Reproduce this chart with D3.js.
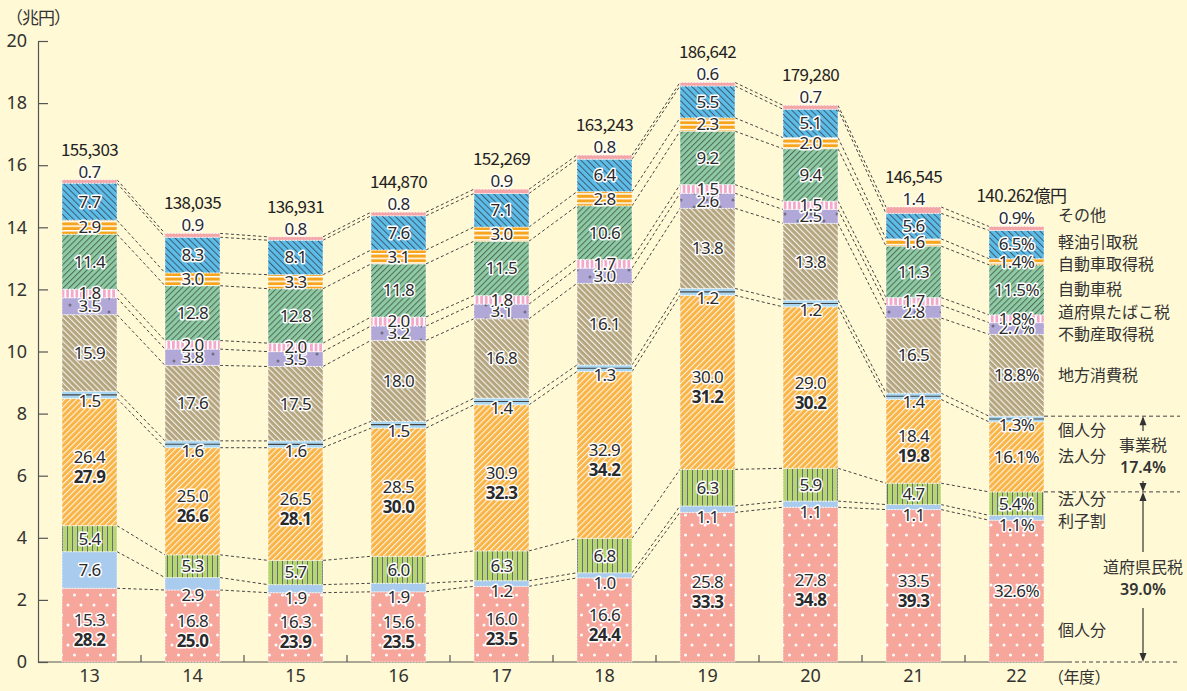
<!DOCTYPE html>
<html><head><meta charset="utf-8">
<script src="https://cdn.jsdelivr.net/npm/d3@7"></script>
<style>
body{margin:0;background:#fff9d5;}
svg{display:block;}
</style></head><body>
<svg id="chart" width="1187" height="691"></svg>
<script>
// ---------------- DATA ----------------
const years = ["13","14","15","16","17","18","19","20","21","22"];
const totals = [155303,138035,136931,144870,152269,163243,186642,179280,146545,140262]; // 億円
const totalLabels = ["155,303","138,035","136,931","144,870","152,269","163,243","186,642","179,280","146,545","140.262億円"];
const seriesNames = ["個人分","利子割","法人分","法人分","個人分","地方消費税","不動産取得税","道府県たばこ税","自動車税","自動車取得税","軽油引取税","その他"];
// shares (%) bottom to top
const prefIndividual   = [15.3,16.8,16.3,15.6,16.0,16.6,25.8,27.8,33.5,32.6];
const prefInterest     = [7.6,2.9,1.9,1.9,1.2,1.0,1.1,1.1,1.1,1.1];
const prefCorporate    = [5.4,5.3,5.7,6.0,6.3,6.8,6.3,5.9,4.7,5.4];
const bizCorporate     = [26.4,25.0,26.5,28.5,30.9,32.9,30.0,29.0,18.4,16.1];
const bizIndividual    = [1.5,1.6,1.6,1.5,1.4,1.3,1.2,1.2,1.4,1.3];
const localConsumption = [15.9,17.6,17.5,18.0,16.8,16.1,13.8,13.8,16.5,18.8];
const realEstate       = [3.5,3.8,3.5,3.2,3.1,3.0,2.6,2.5,2.8,2.7];
const tobacco          = [1.8,2.0,2.0,2.0,1.8,1.7,1.5,1.5,1.7,1.8];
const autoTax          = [11.4,12.8,12.8,11.8,11.5,10.6,9.2,9.4,11.3,11.5];
const autoAcquisition  = [2.9,3.0,3.3,3.1,3.0,2.8,2.3,2.0,1.6,1.4];
const lightOil         = [7.7,8.3,8.1,7.6,7.1,6.4,5.5,5.1,5.6,6.5];
const others           = [0.7,0.9,0.8,0.8,0.9,0.8,0.6,0.7,1.4,0.9];
// bold totals: 道府県民税 and 事業税
const prefTaxTotal = [28.2,25.0,23.9,23.5,23.5,24.4,33.3,34.8,39.3,null];
const bizTaxTotal  = [27.9,26.6,28.1,30.0,32.3,34.2,31.2,30.2,19.8,null];
const yTicks = [0,2,4,6,8,10,12,14,16,18,20];
const bracketNames = ["事業税","道府県民税"];
const bracketLabels = ["17.4%","39.0%"];

const series = [prefIndividual,prefInterest,prefCorporate,bizCorporate,bizIndividual,
  localConsumption,realEstate,tobacco,autoTax,autoAcquisition,lightOil,others];

// ---------------- SETUP ----------------
const W = 1187, H = 691;
const svg = d3.select("#chart");
svg.append("rect").attr("width",W).attr("height",H).attr("fill","#fff9d5");
const NUM = "'Noto Sans', 'DejaVu Sans', sans-serif";
const JP = "'Noto Sans CJK JP', 'Noto Sans', sans-serif";

const x = d3.scaleBand().domain(years).range([38,1068]).paddingInner(48/103).paddingOuter(24/103);
const y = d3.scaleLinear().domain([0,20]).range([662,41]);
const bw = x.bandwidth();

// ---------------- PATTERNS ----------------
const defs = svg.append("defs");
function pat(id,w,h,bg,draw,transform){
  const p = defs.append("pattern").attr("id",id).attr("patternUnits","userSpaceOnUse")
    .attr("width",w).attr("height",h);
  if(transform) p.attr("patternTransform",transform);
  p.append("rect").attr("width",w).attr("height",h).attr("fill",bg);
  if(draw) draw(p);
}
pat("p0",13,20,"#f6a69b",p=>{
  p.append("circle").attr("cx",3).attr("cy",5).attr("r",1.5).attr("fill","#fff");
  p.append("circle").attr("cx",9.5).attr("cy",15).attr("r",1.5).attr("fill","#fff");
});
pat("p1",10,10,"#a9cbee");
pat("p2",5,5,"#b6d66e",p=>{
  p.append("rect").attr("x",2).attr("y",0).attr("width",1).attr("height",5).attr("fill","#6c6a82");
});
pat("p3",4.2,4.2,"#f9b445",p=>{
  p.append("rect").attr("x",0).attr("y",0).attr("width",1.1).attr("height",4.2).attr("fill","#fff").attr("opacity",0.85);
},"rotate(45)");
pat("p4",10,10,"#a9d6f1");
pat("p5",4.2,4.2,"#b5a57e",p=>{
  p.append("rect").attr("x",0).attr("y",0).attr("width",1.1).attr("height",4.2).attr("fill","#fff").attr("opacity",0.85);
},"rotate(-45)");
pat("p6",26,14,"#b1a8d8",p=>{
  p.append("circle").attr("cx",5).attr("cy",4).attr("r",1.5).attr("fill","#6f6f82");
  p.append("circle").attr("cx",18).attr("cy",11).attr("r",1.5).attr("fill","#6f6f82");
});
pat("p7",4.6,5,"#f3a9c9",p=>{
  p.append("rect").attr("x",0).attr("y",0).attr("width",1.8).attr("height",5).attr("fill","#fff");
});
pat("p8",4.2,4.2,"#8ecba3",p=>{
  p.append("rect").attr("x",0).attr("y",0).attr("width",1).attr("height",4.2).attr("fill","#4f6a5c");
},"rotate(45)");
pat("p9",5,4.6,"#f7a51d",p=>{
  p.append("rect").attr("x",0).attr("y",0).attr("width",5).attr("height",1.5).attr("fill","#fff");
});
pat("p10",4.5,4.5,"#5dbde9",p=>{
  p.append("rect").attr("x",0).attr("y",0).attr("width",1).attr("height",4.5).attr("fill","#3d5a6e");
},"rotate(-45)");
pat("p11",10,10,"#f4a5a8");

// ---------------- STACK ----------------
const bars = years.map((yr,i)=>{
  const sum = d3.sum(series,s=>s[i]);
  const k = totals[i]/10000/sum;
  let c = 0;
  const segs = series.map((s,j)=>{
    const y0 = c; c += s[i]*k;
    return {j, v:s[i], y0, y1:c, i};
  });
  return {yr, i, segs, top:c};
});

// ---------------- AXES ----------------
const gy = svg.append("g").attr("transform","translate(38,0)")
  .call(d3.axisLeft(y).tickValues(yTicks).tickSize(-10).tickSizeOuter(0).tickPadding(11).tickFormat(d3.format("d")));
gy.select(".domain").attr("stroke","#555").attr("stroke-width",1.2);
gy.selectAll(".tick line").attr("stroke","#555").attr("stroke-width",1.2);
gy.selectAll(".tick text").attr("font-family",NUM).attr("font-size",18).attr("fill","#333");
svg.append("text").attr("x",6).attr("y",18).attr("dy","0.35em").attr("font-family",JP)
  .attr("font-size",17).attr("fill","#333").attr("letter-spacing","-1").text("（兆円）");

// x axis baseline + boundary ticks
svg.append("line").attr("x1",38).attr("x2",1068).attr("y1",y(0)).attr("y2",y(0)).attr("stroke","#555").attr("stroke-width",1.2);
years.forEach((yr,i)=>{
  const bx = x(yr)+bw+(x.step()-bw)/2;
  if(i<years.length-1)
    svg.append("line").attr("x1",bx).attr("x2",bx).attr("y1",y(0)).attr("y2",y(0)-7).attr("stroke","#555").attr("stroke-width",1.2);
});
const gx = svg.append("g").attr("transform",`translate(0,${y(0)})`)
  .call(d3.axisBottom(x).tickSize(0).tickPadding(7));
gx.select(".domain").remove();
gx.selectAll(".tick text").attr("font-family",NUM).attr("font-size",18).attr("fill","#333");
svg.append("text").attr("x",1048).attr("y",677).attr("dy","0.35em").attr("font-family",JP)
  .attr("font-size",16).attr("fill","#333").attr("letter-spacing","-0.5").text("（年度）");

// ---------------- CONNECTORS ----------------
const conn = svg.append("g");
for(let i=0;i<bars.length-1;i++){
  for(let j=0;j<series.length;j++){
    conn.append("line")
      .attr("x1",x(years[i])+bw).attr("y1",y(bars[i].segs[j].y1))
      .attr("x2",x(years[i+1])).attr("y2",y(bars[i+1].segs[j].y1))
      .attr("stroke","#444").attr("stroke-width",1).attr("stroke-dasharray","3,2.5");
  }
}

// ---------------- BARS ----------------
const gb = svg.append("g");
bars.forEach(b=>{
  b.segs.forEach(s=>{
    gb.append("rect").attr("x",x(b.yr)).attr("width",bw)
      .attr("y",y(s.y1)).attr("height",y(s.y0)-y(s.y1))
      .attr("fill",`url(#p${s.j})`)
      .attr("stroke","#fff").attr("stroke-opacity",0.75).attr("stroke-width",0.9).attr("stroke-dasharray","2,1");
    if(s.j===4){
      const cy = (y(s.y0)+y(s.y1))/2;
      gb.append("line").attr("x1",x(b.yr)).attr("x2",x(b.yr)+bw).attr("y1",cy).attr("y2",cy)
        .attr("stroke","#444").attr("stroke-width",1.2);
    }
  });
});

// ---------------- LABELS ----------------
const gl = svg.append("g");
function halo(t,size,weight){
  return t.attr("font-family",NUM).attr("font-size",size).attr("font-weight",weight||"normal")
    .attr("fill","#2a2a2a").attr("stroke","#fff").attr("stroke-width",3).attr("stroke-linejoin","round")
    .attr("paint-order","stroke").attr("text-anchor","middle").attr("dy","0.35em").attr("letter-spacing","-0.6");
}
bars.forEach((b,i)=>{
  const cx = x(b.yr)+bw/2;
  const last = i===bars.length-1;
  const fmt = v => last ? v.toFixed(1)+"%" : v.toFixed(1);
  b.segs.forEach(s=>{
    const yt = y(s.y1), yb = y(s.y0), h = yb-yt, c = (yt+yb)/2;
    let ly = c;
    if(s.j===11) ly = yt-8;
    else if(s.j===1 && h<15) ly = yb+5;
    else if(s.j===4 && h<10) ly = yb+3;
    const bold = s.j===0 ? prefTaxTotal[i] : (s.j===3 ? bizTaxTotal[i] : null);
    if(bold!=null){
      halo(gl.append("text").attr("x",cx).attr("y",c-5),17).text(fmt(s.v));
      halo(gl.append("text").attr("x",cx).attr("y",c+15),17,"bold").text(bold.toFixed(1));
    } else {
      halo(gl.append("text").attr("x",cx).attr("y",ly),17).text(fmt(s.v));
    }
    if(s.j===11){
      gl.append("text").attr("x",last?cx+5:cx).attr("y",yt-30).attr("dy","0.35em").attr("text-anchor","middle")
        .attr("font-family",JP).attr("font-size",17).attr("fill","#222").attr("letter-spacing","-0.6")
        .text(totalLabels[i]);
    }
  });
});

// ---------------- RIGHT LEGEND ----------------
const lastBar = bars[bars.length-1];
const lx = 1058;
const yBizTop = y(lastBar.segs[4].y1), yPrefTop = y(lastBar.segs[2].y1), yBase = y(0);
let items = lastBar.segs.map(s=>({j:s.j, name:seriesNames[s.j], y:(y(s.y0)+y(s.y1))/2}));
items[11].y = y(lastBar.segs[11].y1)-11;
items[0].y = y(lastBar.segs[0].y1*0.22);
items[4].y = yBizTop+14;
const mov = [items[1],items[2],items[3]].concat(items.slice(5,11)).sort((a,b)=>a.y-b.y);
for(let it=0;it<100;it++){
  for(let k=0;k<mov.length-1;k++){
    const gap = mov[k+1].y-mov[k].y;
    if(gap<22){ const d=(22-gap)/2; mov[k].y-=d; mov[k+1].y+=d; }
  }
}
items.forEach(d=>{
  svg.append("text").attr("x",lx).attr("y",d.y).attr("dy","0.35em").attr("font-family",JP)
    .attr("font-size",16).attr("fill","#333").text(d.name);
});

// ---------------- BRACKETS ----------------
const bx0 = x(years[9])+bw, bx1 = 1180, ax = 1143;
[yBizTop,yPrefTop].forEach(yy=>{
  svg.append("line").attr("x1",bx0).attr("x2",bx1).attr("y1",yy).attr("y2",yy)
    .attr("stroke","#444").attr("stroke-width",1).attr("stroke-dasharray","4,3");
});
svg.append("line").attr("x1",1068).attr("x2",bx1).attr("y1",yBase).attr("y2",yBase)
  .attr("stroke","#444").attr("stroke-width",1).attr("stroke-dasharray","4,3");
function arrowHead(yy,dir){ // dir -1 up, +1 down
  svg.append("path").attr("d",`M${ax},${yy} L${ax-3.5},${yy-dir*9} L${ax+3.5},${yy-dir*9} Z`).attr("fill","#333");
}
function vline(a,b){ svg.append("line").attr("x1",ax).attr("x2",ax).attr("y1",a).attr("y2",b).attr("stroke","#333").attr("stroke-width",1.2); }
// 事業税
const m1 = (yBizTop+yPrefTop)/2;
vline(yBizTop+2,m1-23); vline(m1+27,yPrefTop-2);
arrowHead(yBizTop,-1); arrowHead(yPrefTop,1);
svg.append("text").attr("x",ax).attr("y",m1-9).attr("dy","0.35em").attr("text-anchor","middle")
  .attr("font-family",JP).attr("font-size",16).attr("fill","#333").text(bracketNames[0]);
svg.append("text").attr("x",ax).attr("y",m1+13).attr("dy","0.35em").attr("text-anchor","middle")
  .attr("font-family",NUM).attr("font-size",16).attr("font-weight","600").attr("fill","#333").text(bracketLabels[0]);
// 道府県民税
const m2 = (yPrefTop+yBase)/2;
vline(yPrefTop+2,m2-25); vline(m2+31,yBase-2);
arrowHead(yPrefTop,-1); arrowHead(yBase,1);
svg.append("text").attr("x",ax).attr("y",m2-10).attr("dy","0.35em").attr("text-anchor","middle")
  .attr("font-family",JP).attr("font-size",16).attr("fill","#333").text(bracketNames[1]);
svg.append("text").attr("x",ax).attr("y",m2+12).attr("dy","0.35em").attr("text-anchor","middle")
  .attr("font-family",NUM).attr("font-size",16).attr("font-weight","600").attr("fill","#333").text(bracketLabels[1]);
</script>
</body></html>
